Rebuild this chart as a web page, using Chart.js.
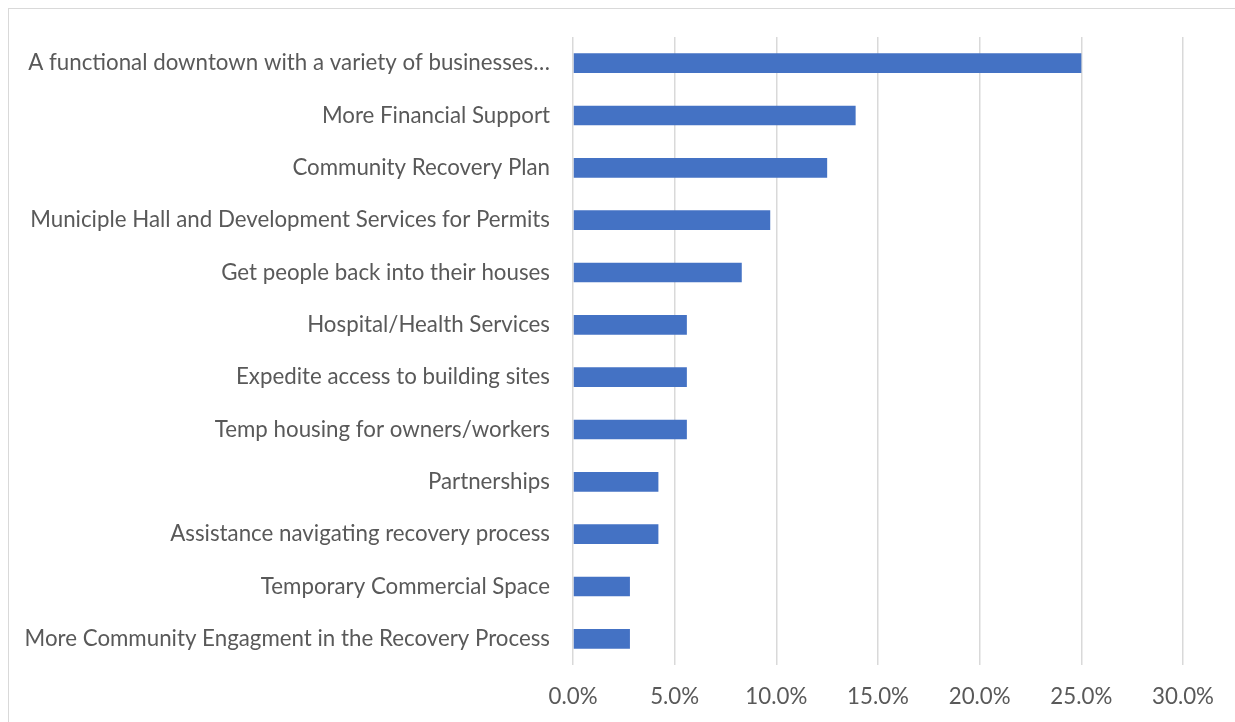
<!DOCTYPE html>
<html>
<head>
<meta charset="utf-8">
<script src="https://cdn.jsdelivr.net/npm/chart.js@4.4.1/dist/chart.umd.min.js"></script>
<style>
  html, body { margin: 0; padding: 0; background: #fff; overflow: hidden; }
  #wrap { position: relative; width: 1235px; height: 722px; }
  #frame { position: absolute; left: 8px; top: 8px; width: 1300px; height: 800px;
           border-top: 1.5px solid #d9d9d9; border-left: 1.5px solid #d9d9d9; }
  canvas { position: absolute; left: 0; top: 0; }
</style>
</head>
<body>
<div id="wrap">
  <div id="frame"></div>
  <canvas id="chart" width="1235" height="722"></canvas>
</div>
<script>
var categories = [
  'A functional downtown with a variety of businesses…',
  'More Financial Support',
  'Community Recovery Plan',
  'Municiple Hall and Development Services for Permits',
  'Get people back into their houses',
  'Hospital/Health Services',
  'Expedite access to building sites',
  'Temp housing for owners/workers',
  'Partnerships',
  'Assistance navigating recovery process',
  'Temporary Commercial Space',
  'More Community Engagment in the Recovery Process'
];
var shares = [25.0, 13.9, 12.5, 9.7, 8.3, 5.6, 5.6, 5.6, 4.2, 4.2, 2.8, 2.8];
var tickValues = [0, 5, 10, 15, 20, 25, 30];

var txt = '#595959';
var grid = '#d9d9d9';
var fnt = { family: 'Lato', size: 22.3 };

var ctx = document.getElementById('chart').getContext('2d');
var chart = new Chart(ctx, {
  type: 'bar',
  data: {
    labels: categories,
    datasets: [{
      data: shares,
      backgroundColor: '#4472c4',
      borderWidth: 0,
      categoryPercentage: 1,
      barPercentage: 0.375
    }]
  },
  options: {
    indexAxis: 'y',
    responsive: false,
    animation: false,
    layout: { padding: { top: 37, right: 52, bottom: 0, left: 0 } },
    plugins: { legend: { display: false }, tooltip: { enabled: false } },
    scales: {
      x: {
        min: tickValues[0],
        max: tickValues[tickValues.length - 1],
        afterBuildTicks: function(axis) {
          axis.ticks = tickValues.map(function(v){ return { value: v }; });
        },
        afterFit: function(axis){ axis.height = 57; },
        ticks: {
          color: txt, font: fnt, padding: 18, maxRotation: 0,
          callback: function(v){ return v.toFixed(1) + '%'; }
        },
        grid: { color: grid, lineWidth: 1.5, drawTicks: false },
        border: { display: false }
      },
      y: {
        afterFit: function(axis){ axis.width = 573; },
        ticks: { color: txt, font: fnt, padding: 23, autoSkip: false },
        grid: { display: false, drawTicks: false },
        border: { display: false }
      }
    }
  }
});
</script>
</body>
</html>
